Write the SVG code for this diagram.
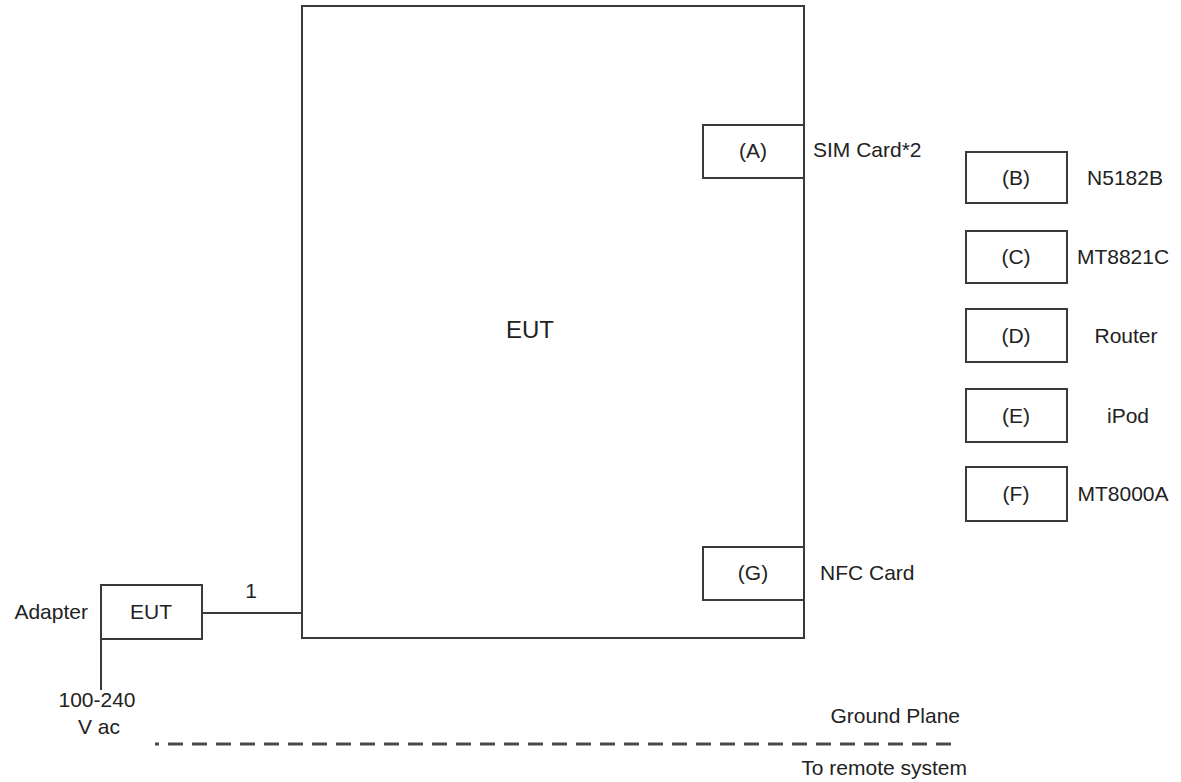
<svg xmlns="http://www.w3.org/2000/svg" width="1181" height="782" viewBox="0 0 1181 782">
<style>
.box{fill:#fff;stroke:#3a3a3a;stroke-width:2}
.ln{fill:none;stroke:#3a3a3a;stroke-width:2}
.t{font-family:"Liberation Sans",Arial,sans-serif;font-size:21px;fill:#222}
.m{text-anchor:middle}
</style>
<rect width="1181" height="782" fill="#fff"/>
<g id="eut-main">
<rect class="box" x="302" y="6" width="502" height="632"/>
<text class="t m" x="530" y="338" style="font-size:24px">EUT</text>
</g>
<g id="node-A">
<rect class="box" x="703" y="125" width="101" height="53"/>
<text class="t m" x="753" y="158">(A)</text>
<text class="t" x="813" y="157">SIM Card*2</text>
</g>
<g id="node-G">
<rect class="box" x="703" y="547" width="101" height="53"/>
<text class="t m" x="753" y="580">(G)</text>
<text class="t" x="820" y="580">NFC Card</text>
</g>
<g id="node-B">
<rect class="box" x="966" y="152" width="101" height="51"/>
<text class="t m" x="1016" y="185">(B)</text>
<text class="t m" x="1125" y="185">N5182B</text>
</g>
<g id="node-C">
<rect class="box" x="966" y="231" width="101" height="52"/>
<text class="t m" x="1016" y="264">(C)</text>
<text class="t m" x="1123" y="264">MT8821C</text>
</g>
<g id="node-D">
<rect class="box" x="966" y="309" width="101" height="53"/>
<text class="t m" x="1016" y="343">(D)</text>
<text class="t m" x="1126" y="343">Router</text>
</g>
<g id="node-E">
<rect class="box" x="966" y="389" width="101" height="53"/>
<text class="t m" x="1016" y="423">(E)</text>
<text class="t m" x="1128" y="423">iPod</text>
</g>
<g id="node-F">
<rect class="box" x="966" y="467" width="101" height="54"/>
<text class="t m" x="1016" y="501">(F)</text>
<text class="t m" x="1123" y="501">MT8000A</text>
</g>
<g id="adapter">
<rect class="box" x="101" y="585" width="101" height="54"/>
<text class="t m" x="151" y="619">EUT</text>
<text class="t" x="88" y="619" style="text-anchor:end">Adapter</text>
</g>
<g id="connectors">
<line class="ln" x1="202" y1="613" x2="302" y2="613"/>
<line class="ln" x1="101" y1="639" x2="101" y2="690"/>
<line class="ln" x1="155" y1="744" x2="957" y2="744" style="stroke:#4a4a4a;stroke-width:3;stroke-dasharray:15 9;stroke-dashoffset:11"/>
</g>
<g id="labels">
<text class="t m" x="251" y="598">1</text>
<text class="t m" x="97" y="707">100-240</text>
<text class="t m" x="99" y="734">V ac</text>
<text class="t" x="960" y="723" style="text-anchor:end">Ground Plane</text>
<text class="t" x="967" y="775" style="text-anchor:end">To remote system</text>
</g>
</svg>
